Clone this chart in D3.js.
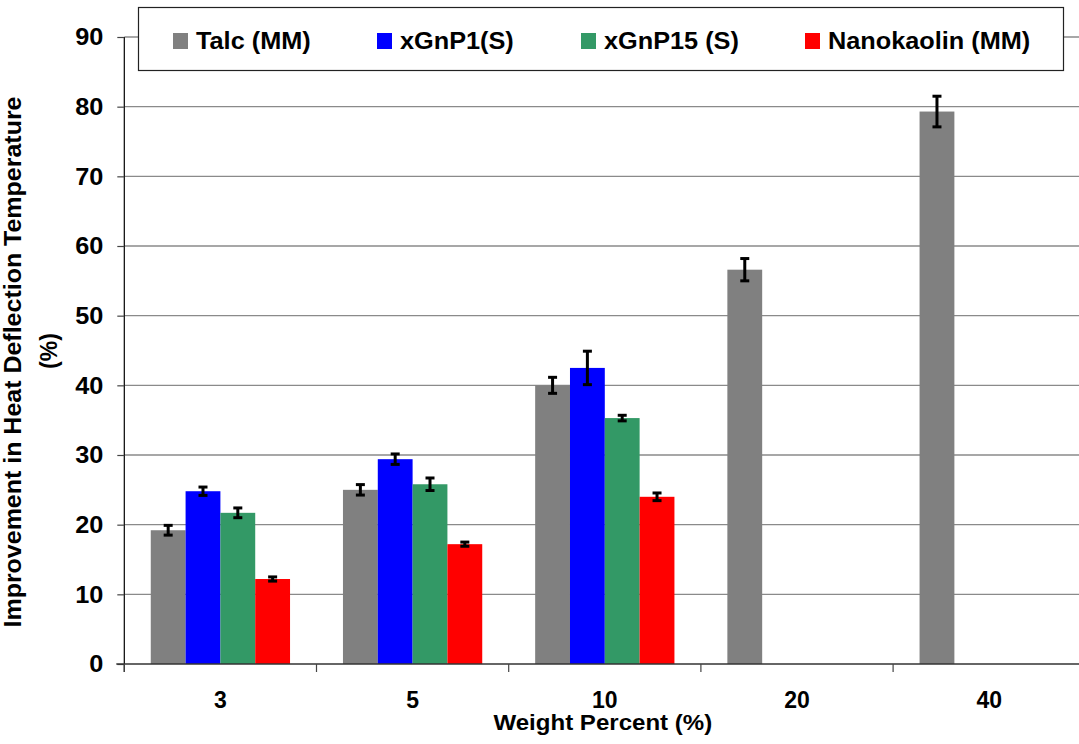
<!DOCTYPE html>
<html>
<head>
<meta charset="utf-8">
<script src="https://cdn.jsdelivr.net/npm/d3@7"></script>
<style>
  html, body { margin: 0; padding: 0; background: #fff; }
  svg { display: block; font-family: "Liberation Sans", Arial, sans-serif; font-weight: bold; }
</style>
</head>
<body>
<svg id="chart" width="1079" height="744"></svg>
<script>
// Weight percent categories
const categories = ["3", "5", "10", "20", "40"];

// Series names, in bar order within each group
const seriesNames = ["Talc (MM)", "xGnP1(S)", "xGnP15 (S)", "Nanokaolin (MM)"];
const seriesColors = ["#808080", "#0000FF", "#339966", "#FF0000"];

// Improvement in HDT (%) and error half-widths per series (null = not measured)
const talcValues       = [19.2, 25.0, 40.0, 56.6, 79.3];
const talcErrors       = [0.7, 0.75, 1.15, 1.6, 2.2];
const xgnp1Values      = [24.8, 29.4, 42.5, null, null];
const xgnp1Errors      = [0.6, 0.75, 2.4, null, null];
const xgnp15Values     = [21.7, 25.8, 35.3, null, null];
const xgnp15Errors     = [0.7, 0.9, 0.4, null, null];
const nanokaolinValues = [12.2, 17.2, 24.0, null, null];
const nanokaolinErrors = [0.3, 0.3, 0.55, null, null];

const yTicks = [0, 10, 20, 30, 40, 50, 60, 70, 80, 90];

const seriesValues = [talcValues, xgnp1Values, xgnp15Values, nanokaolinValues];
const seriesErrors = [talcErrors, xgnp1Errors, xgnp15Errors, nanokaolinErrors];

const svg = d3.select("#chart");

const plotLeft = 124.3, plotRight = 1085.3, plotTop = 37, plotBottom = 664;
// labels are set in a slightly widened face
const stretch = 1.1;

const x0 = d3.scaleBand().domain(categories).range([plotLeft, plotRight]).padding(0);
const x1 = d3.scaleBand().domain(seriesNames).range([0, x0.bandwidth()])
  .paddingInner(0).paddingOuter(0.76);
const y = d3.scaleLinear().domain([0, 90]).range([plotBottom, plotTop]);

// Horizontal gridlines
svg.append("g")
  .selectAll("line")
  .data(yTicks.filter(t => t > 0))
  .join("line")
  .attr("x1", plotLeft).attr("x2", plotRight)
  .attr("y1", d => y(d)).attr("y2", d => y(d))
  .attr("stroke", "#8a8a8a")
  .attr("stroke-width", 1.3);

// Flatten the bar records
const bars = [];
seriesNames.forEach((s, si) => {
  categories.forEach((c, ci) => {
    const v = seriesValues[si][ci];
    if (v != null) bars.push({ series: s, si, cat: c, value: v, err: seriesErrors[si][ci] });
  });
});

// Bars
svg.append("g")
  .selectAll("rect")
  .data(bars)
  .join("rect")
  .attr("x", d => x0(d.cat) + x1(d.series))
  .attr("y", d => y(d.value))
  .attr("width", x1.bandwidth())
  .attr("height", d => y(0) - y(d.value))
  .attr("fill", d => seriesColors[d.si]);

// Error bars
const eb = svg.append("g").attr("stroke", "#000");
const cx = d => x0(d.cat) + x1(d.series) + x1.bandwidth() / 2;
eb.selectAll("line.stem")
  .data(bars)
  .join("line")
  .attr("class", "stem")
  .attr("x1", cx).attr("x2", cx)
  .attr("y1", d => y(d.value + d.err)).attr("y2", d => y(d.value - d.err))
  .attr("stroke-width", 3);
eb.selectAll("line.capTop")
  .data(bars)
  .join("line")
  .attr("class", "capTop")
  .attr("x1", d => cx(d) - 4.5).attr("x2", d => cx(d) + 4.5)
  .attr("y1", d => y(d.value + d.err)).attr("y2", d => y(d.value + d.err))
  .attr("stroke-width", 3);
eb.selectAll("line.capBot")
  .data(bars)
  .join("line")
  .attr("class", "capBot")
  .attr("x1", d => cx(d) - 4.5).attr("x2", d => cx(d) + 4.5)
  .attr("y1", d => y(d.value - d.err)).attr("y2", d => y(d.value - d.err))
  .attr("stroke-width", 3);

// Y axis
const yAxis = svg.append("g")
  .attr("transform", `translate(${plotLeft},0)`)
  .call(d3.axisLeft(y).tickValues(yTicks).tickSize(7).tickPadding(14).tickFormat(d3.format("d")));
yAxis.select(".domain").attr("d", `M0,${plotTop}V${plotBottom + 8}`).attr("stroke", "#000").attr("stroke-width", 1.2);
yAxis.selectAll(".tick line").attr("stroke", "#444").attr("stroke-width", 1.2);
yAxis.selectAll(".tick text")
  .attr("font-size", 23).attr("font-family", "'Liberation Sans', Arial, sans-serif")
  .attr("font-weight", "bold").attr("fill", "#000").attr("dy", "0.34em")
  .attr("x", -21 / stretch)
  .attr("transform", `scale(${stretch},1)`);

// X axis: ticks sit on category boundaries
const boundaries = categories.map(c => x0(c)).concat([plotRight]);
const xg = svg.append("g");
xg.append("line")
  .attr("x1", plotLeft - 8).attr("x2", plotRight)
  .attr("y1", plotBottom).attr("y2", plotBottom)
  .attr("stroke", "#333").attr("stroke-width", 1.5);
xg.selectAll("line.xt")
  .data(boundaries)
  .join("line")
  .attr("class", "xt")
  .attr("x1", d => d).attr("x2", d => d)
  .attr("y1", plotBottom).attr("y2", plotBottom + 8)
  .attr("stroke", "#444").attr("stroke-width", 1.2);
xg.selectAll("text")
  .data(categories)
  .join("text")
  .attr("transform", d => `translate(${x0(d) + x0.bandwidth() / 2},707.5)`)
  .attr("text-anchor", "middle")
  .attr("font-size", 23)
  .text(d => d);

// Axis titles
svg.append("text")
  .attr("transform", `translate(${(plotLeft + plotRight) / 2 - 2},730) scale(1.12,1)`)
  .attr("text-anchor", "middle")
  .attr("font-size", 21.5)
  .text("Weight Percent (%)");

svg.append("text")
  .attr("transform", "translate(21,362) rotate(-90)")
  .attr("text-anchor", "middle")
  .attr("font-size", 23)
  .attr("textLength", 531)
  .attr("lengthAdjust", "spacingAndGlyphs")
  .text("Improvement in Heat Deflection Temperature");
svg.append("text")
  .attr("transform", "translate(57,351) rotate(-90)")
  .attr("text-anchor", "middle")
  .attr("font-size", 23)
  .text("(%)");

// Legend
const legend = svg.append("g");
legend.append("rect")
  .attr("x", 138.5).attr("y", 7.5)
  .attr("width", 925).attr("height", 63)
  .attr("fill", "#fff").attr("stroke", "#222").attr("stroke-width", 1.2);
const legendX = [173, 377, 581, 805];
const items = legend.selectAll("g.item")
  .data(seriesNames)
  .join("g")
  .attr("class", "item")
  .attr("transform", (d, i) => `translate(${legendX[i]},0)`);
items.append("rect")
  .attr("x", 0).attr("y", 33)
  .attr("width", 15).attr("height", 16)
  .attr("fill", (d, i) => seriesColors[i]);
items.append("text")
  .attr("transform", `translate(23,48.5) scale(${stretch},1)`)
  .attr("font-size", 23)
  .text(d => d);
</script>
</body>
</html>
